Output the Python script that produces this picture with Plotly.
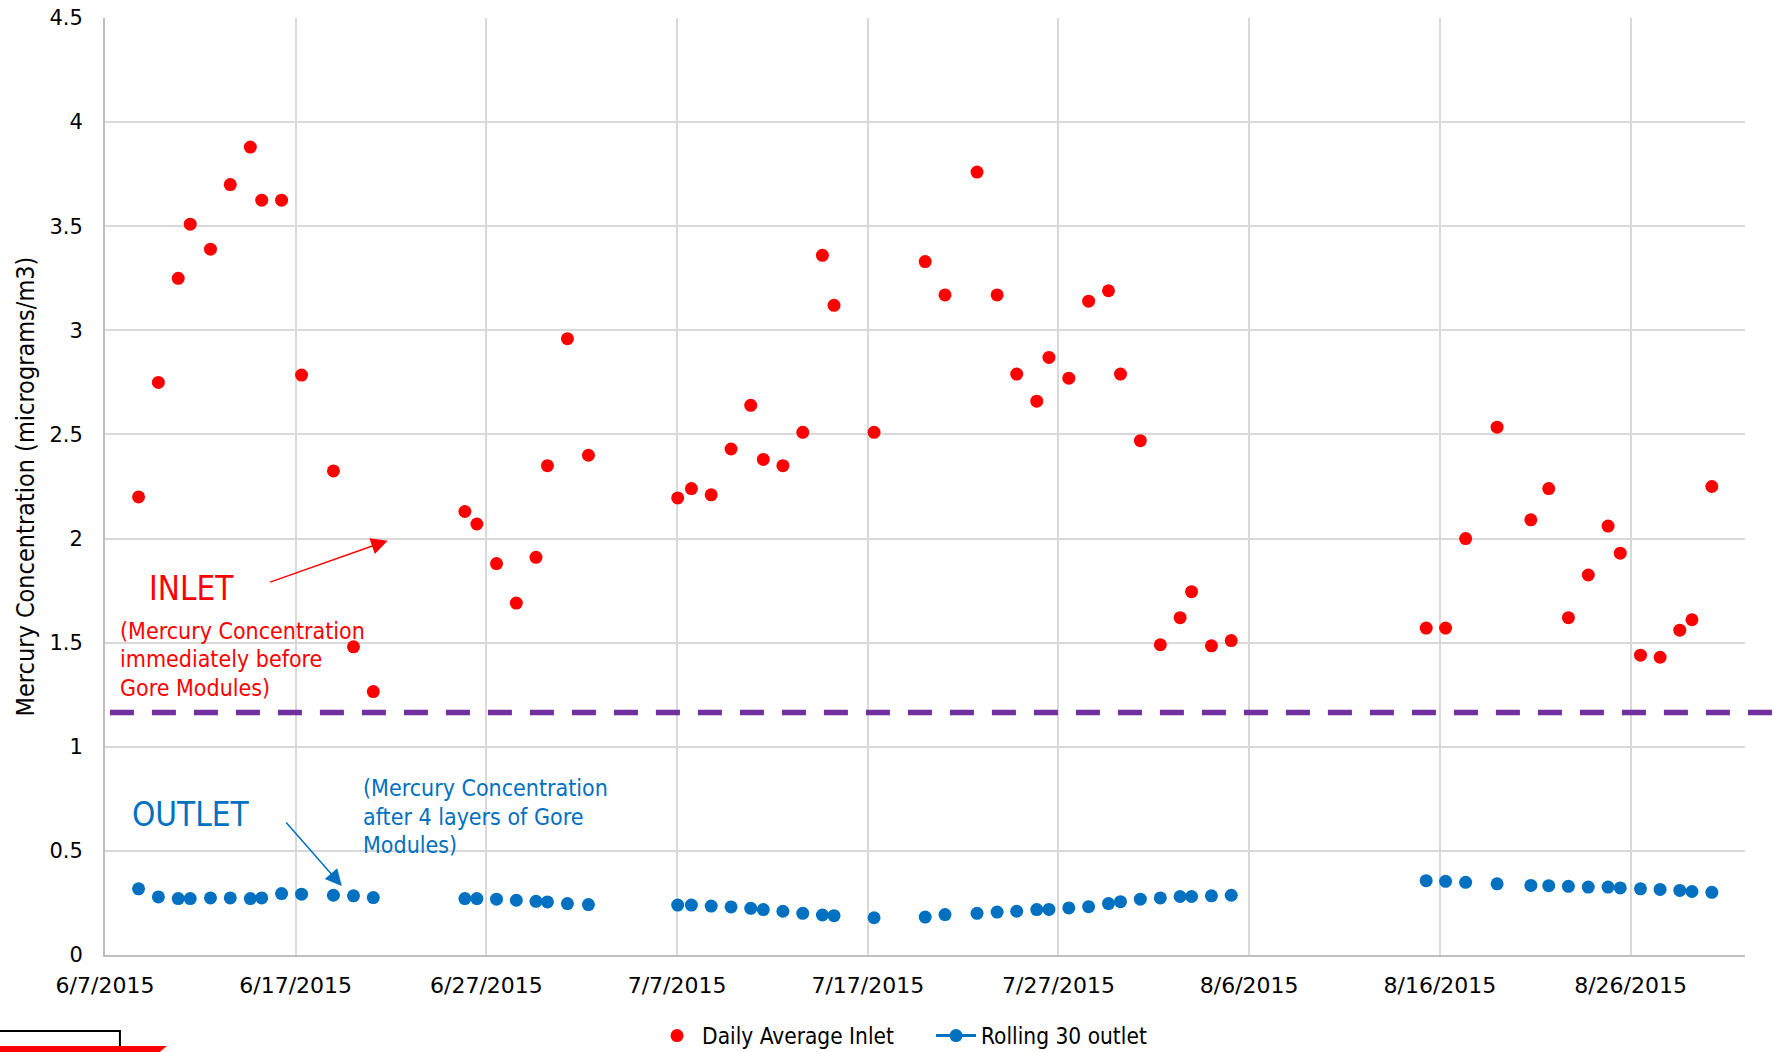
import plotly.graph_objects as go

# ---- data ----
dates = [
    "2015-06-08 18:15", "2015-06-09 19:10", "2015-06-10 20:10", "2015-06-11 11:15", "2015-06-12 12:45",
    "2015-06-13 13:40", "2015-06-14 14:55", "2015-06-15 05:15", "2015-06-16 06:15", "2015-06-17 07:25",
    "2015-06-18 23:30", "2015-06-20 00:45", "2015-06-21 01:40",
    "2015-06-25 20:55", "2015-06-26 12:00", "2015-06-27 12:45", "2015-06-28 13:40", "2015-06-29 14:25",
    "2015-06-30 04:50", "2015-07-01 06:00", "2015-07-02 08:25",
    "2015-07-07 00:45", "2015-07-07 18:00", "2015-07-08 18:55", "2015-07-09 19:55", "2015-07-10 20:40",
    "2015-07-11 12:30", "2015-07-12 13:10", "2015-07-13 14:10", "2015-07-14 14:55", "2015-07-15 05:30",
    "2015-07-17 07:55", "2015-07-20 00:15", "2015-07-21 01:10",
    "2015-07-22 17:30", "2015-07-23 18:45", "2015-07-24 19:25", "2015-07-25 20:40", "2015-07-26 12:00",
    "2015-07-27 13:00", "2015-07-28 13:55", "2015-07-29 14:55", "2015-07-30 06:00", "2015-07-31 07:00",
    "2015-08-01 08:10", "2015-08-02 09:05", "2015-08-02 23:30", "2015-08-04 00:30", "2015-08-05 01:25",
    "2015-08-15 06:45", "2015-08-16 07:10", "2015-08-17 08:25", "2015-08-19 00:00", "2015-08-20 18:30",
    "2015-08-21 17:00", "2015-08-22 17:45", "2015-08-23 18:45", "2015-08-24 19:40", "2015-08-25 11:00",
    "2015-08-26 12:30", "2015-08-27 13:10", "2015-08-28 13:55", "2015-08-29 05:15", "2015-08-30 06:15",
]

inlet = [
    2.20, 2.75, 3.25, 3.51, 3.39, 3.70, 3.88, 3.625, 3.625, 2.785, 2.325, 1.48, 1.265,
    2.13, 2.07, 1.88, 1.69, 1.91, 2.35, 2.96, 2.40,
    2.195, 2.24, 2.21, 2.43, 2.64, 2.38, 2.35, 2.51, 3.36, 3.12, 2.51, 3.33, 3.17,
    3.76, 3.17, 2.79, 2.66, 2.87, 2.77, 3.14, 3.19, 2.79, 2.47, 1.49, 1.62, 1.745, 1.485, 1.51,
    1.57, 1.57, 2.00, 2.535, 2.09, 2.24, 1.62, 1.825, 2.06, 1.93, 1.44, 1.43, 1.56, 1.61, 2.25,
]

outlet = [
    0.318, 0.279, 0.271, 0.271, 0.274, 0.274, 0.271, 0.274, 0.295, 0.292, 0.287, 0.284, 0.276,
    0.271, 0.271, 0.268, 0.263, 0.258, 0.255, 0.247, 0.242,
    0.240, 0.240, 0.235, 0.231, 0.224, 0.218, 0.210, 0.200, 0.192, 0.189, 0.179, 0.182, 0.194,
    0.200, 0.206, 0.210, 0.218, 0.219, 0.226, 0.232, 0.247, 0.256, 0.268, 0.274, 0.281, 0.281, 0.284, 0.287,
    0.357, 0.354, 0.349, 0.342, 0.334, 0.333, 0.330, 0.326, 0.326, 0.322, 0.318, 0.315, 0.310, 0.305, 0.301,
]

threshold = 1.165
y_ticks = [0, 0.5, 1, 1.5, 2, 2.5, 3, 3.5, 4, 4.5]
y_tick_text = ["0", "0.5", "1", "1.5", "2", "2.5", "3", "3.5", "4", "4.5"]
x_range = ["2015-06-07", "2015-09-01"]

# ---- styling ----
RED = "#FF0000"
BLUE = "#0070C0"
PURPLE = "#7030A0"
GRID = "#D9D9D9"
AXIS = "#BFBFBF"
TICK_FONT = "DejaVu Sans, sans-serif"
NARROW = "DejaVu Sans Condensed, Liberation Sans Narrow, sans-serif"
NBSP = "\u00a0"

# outlet: legend shows line + marker, but no connecting line in plot
ox, oy = [], []
for d, v in zip(dates, outlet):
    ox += [d, None]
    oy += [v, None]

fig = go.Figure()
fig.add_trace(go.Scatter(
    x=dates, y=inlet, mode="markers", name="Daily Average Inlet" + NBSP * 5,
    marker=dict(color=RED, size=13),
))
fig.add_trace(go.Scatter(
    x=ox, y=oy, mode="lines+markers", name="Rolling 30 outlet",
    connectgaps=False,
    line=dict(color=BLUE, width=3),
    marker=dict(color=BLUE, size=13),
))

fig.add_shape(type="line", xref="paper", yref="y", x0=0.003, x1=1.018,
              y0=threshold, y1=threshold,
              line=dict(color=PURPLE, width=5.5, dash="24px,18px"))

# bottom-left artefact of the original slide crop
fig.add_shape(type="path", xref="paper", yref="paper",
              path="M -0.0641 -0.0811 L 0.0091 -0.0811 L 0.0091 -0.0971",
              line=dict(color="black", width=2))
fig.add_shape(type="path", xref="paper", yref="paper",
              path="M -0.0641 -0.0971 L 0.0378 -0.0971 L 0.0330 -0.1040 L -0.0641 -0.1040 Z",
              fillcolor=RED, line=dict(color=RED, width=0))

ann = []
ann.append(dict(x="2015-06-09 05:00", y=1.761, xref="x", yref="y", text="INLET",
                showarrow=False, xanchor="left", yanchor="middle",
                font=dict(family=NARROW, size=33, color=RED)))
for t, yy in zip(["(Mercury Concentration", "immediately before", "Gore Modules)"],
                 [1.556, 1.420, 1.283]):
    ann.append(dict(x="2015-06-07 16:20", y=yy, xref="x", yref="y", text=t,
                    showarrow=False, xanchor="left", yanchor="middle",
                    font=dict(family=NARROW, size=23, color=RED)))
ann.append(dict(x="2015-06-08 07:40", y=0.677, xref="x", yref="y", text="OUTLET",
                showarrow=False, xanchor="left", yanchor="middle",
                font=dict(family=NARROW, size=33, color=BLUE)))
for t, yy in zip(["(Mercury Concentration", "after 4 layers of Gore", "Modules)"],
                 [0.803, 0.664, 0.528]):
    ann.append(dict(x="2015-06-20 10:05", y=yy, xref="x", yref="y", text=t,
                    showarrow=False, xanchor="left", yanchor="middle",
                    font=dict(family=NARROW, size=23, color=BLUE)))
# arrows
ann.append(dict(x="2015-06-21 19:45", y=1.99, xref="x", yref="y", text="",
                showarrow=True, ax=-119, ay=42, arrowhead=2, arrowsize=2.2,
                arrowwidth=1.5, arrowcolor=RED))
ann.append(dict(x="2015-06-19 10:05", y=0.331, xref="x", yref="y", text="",
                showarrow=True, ax=-57, ay=-65, arrowhead=2, arrowsize=2.2,
                arrowwidth=1.5, arrowcolor=BLUE))

fig.update_layout(
    width=1774, height=1052,
    margin=dict(l=105, r=29, t=18, b=97, autoexpand=False),
    paper_bgcolor="white", plot_bgcolor="white",
    showlegend=True,
    legend=dict(orientation="h", x=0.486, xanchor="center", y=-0.0864, yanchor="middle",
                font=dict(family=NARROW, size=22.5, color="#000000"),
                itemwidth=40, bgcolor="rgba(0,0,0,0)"),
    annotations=ann,
    xaxis=dict(
        type="date", range=x_range, automargin=False,
        tick0="2015-06-07", dtick=10 * 86400000, tickformat="%-m/%-d/%Y",
        showgrid=True, gridcolor=GRID, gridwidth=2,
        showline=True, linecolor=AXIS, linewidth=2,
        zeroline=False, ticks="", ticklabelstandoff=10,
        tickfont=dict(family=TICK_FONT, size=22, color="#000000"),
    ),
    yaxis=dict(
        range=[0, 4.5], tickvals=y_ticks, ticktext=y_tick_text, automargin=False,
        showgrid=True, gridcolor=GRID, gridwidth=2,
        showline=True, linecolor=AXIS, linewidth=2,
        zeroline=False, ticks="", ticklabelstandoff=16,
        tickfont=dict(family=TICK_FONT, size=21, color="#000000"),
        title=dict(text="Mercury Concentration (micrograms/m3)",
                   font=dict(family=NARROW, size=25, color="#000000"), standoff=8),
    ),
)

fig.write_html("out.html", config={"displayModeBar": False},
               post_script="document.body.style.margin='0';")
